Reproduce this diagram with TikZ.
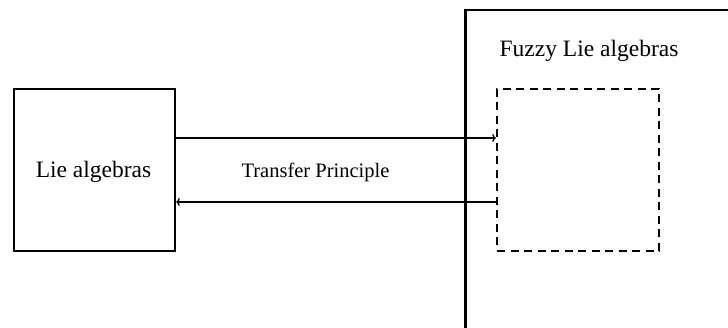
\documentclass[tikz,border=0pt]{standalone}
\usepackage{fontspec}
\setmainfont{Liberation Serif}
\usetikzlibrary{arrows.meta}
\begin{document}
\begin{tikzpicture}[x=1pt,y=-1pt,
  box/.style={draw,line width=2.5pt,minimum width=161pt,minimum height=162pt,inner sep=0pt},
  dbox/.style={draw,line width=2.5pt,dash pattern=on 8pt off 5.5pt,minimum width=162pt,minimum height=162pt,inner sep=0pt},
  conn/.style={line width=1.4pt,-{To[length=3.5pt,width=8pt]}},
  bigtext/.style={font=\fontsize{23.5}{28}\selectfont,anchor=base,inner sep=0pt},
  smalltext/.style={font=\fontsize{20.5}{24}\selectfont,anchor=base,inner sep=0pt}]
\useasboundingbox (0,0) rectangle (728,328);
\clip (0,0) rectangle (728,328);
\fill[white] (0,0) rectangle (728,328);
\node[box] (lie) at (94.5,170) {};
\node[draw,line width=2.5pt,minimum width=400pt,minimum height=400pt,inner sep=0pt,anchor=north west] (big) at (464,9) {};
\node[dbox] (fuzzy) at (578,170) {};
\node[bigtext] (lietext) at (93.5,178) {Lie algebras};
\node[bigtext] (fuzzytext) at (589,56.5) {Fuzzy Lie algebras};
\node[smalltext] (tp) at (315.5,177.3) {Transfer Principle};
\draw[conn] ([yshift=32pt]lie.east) -- ([yshift=32pt]fuzzy.west);
\draw[conn] ([yshift=-32pt]fuzzy.west) -- ([yshift=-32pt]lie.east);
\end{tikzpicture}
\end{document}
